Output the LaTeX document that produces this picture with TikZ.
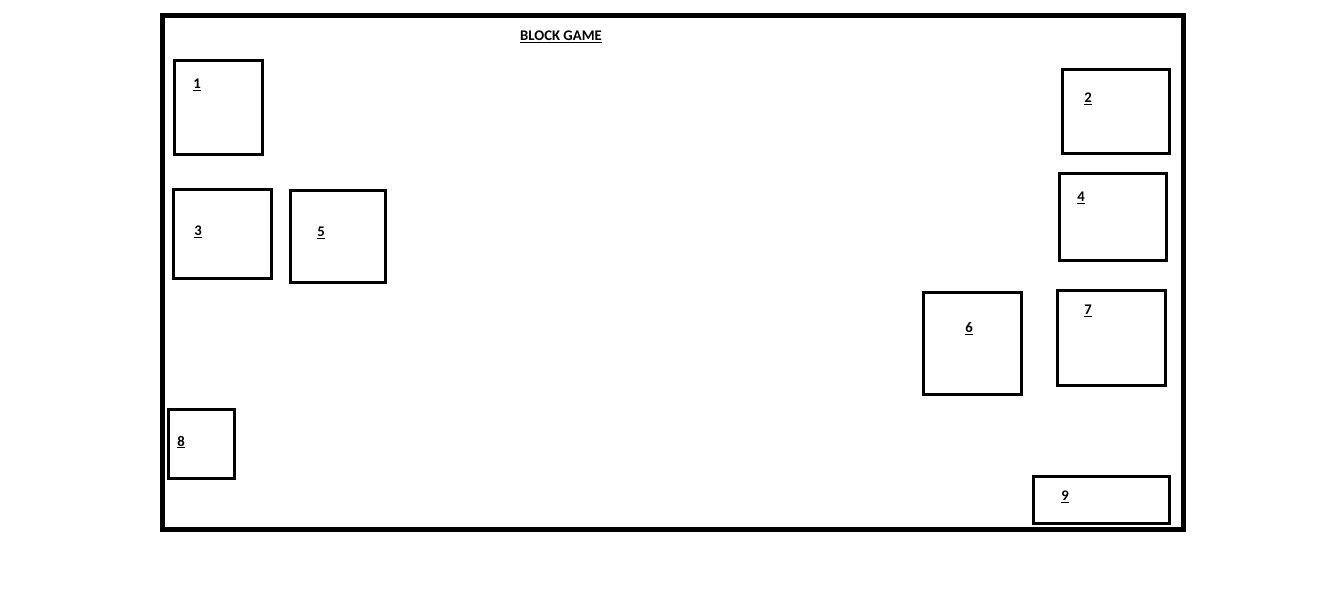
\documentclass[tikz,border=0pt]{standalone}
\usepackage{fontspec}
\setmainfont{Carlito}
\usetikzlibrary{positioning}

\begin{document}
\begin{tikzpicture}[
      x=1pt, y=-1pt,
      board/.style={draw, line width=5pt, inner sep=0pt},
      block/.style={draw, line width=3pt, inner sep=0pt},
      num/.style={font=\fontsize{14.7}{16}\selectfont\bfseries, inner sep=0pt},
    ]
    \useasboundingbox (0,0) rectangle (1341,605);

    \node[board, minimum width=1021pt, minimum height=514pt] (frame) at (673,272.5) {};
    \node[num] (title) at (561,37) {\underline{BLOCK GAME}};

    % left column
    \node[block, minimum width=88pt, minimum height=94pt] (b1) at (218.5,107.5) {};
    \node[num] (n1) at (197,85) {\underline{1}};

    \node[block, minimum width=98pt, minimum height=89pt] (b3) at (222.5,234) {};
    \node[num] (n3) at (198,232) {\underline{3}};

    \node[block, minimum width=95pt, minimum height=92pt] (b5) at (338,236.5) {};
    \node[num] (n5) at (321,233) {\underline{5}};

    \node[block, minimum width=66pt, minimum height=69pt] (b8) at (201.5,444) {};
    \node[num] (n8) at (181,442) {\underline{8}};

    % right column
    \node[block, minimum width=107pt, minimum height=84pt] (b2) at (1116,111.5) {};
    \node[num] (n2) at (1088,99) {\underline{2}};

    \node[block, minimum width=107pt, minimum height=87pt] (b4) at (1113,217) {};
    \node[num] (n4) at (1081,198) {\underline{4}};

    \node[block, minimum width=98pt, minimum height=102pt] (b6) at (972.5,343.5) {};
    \node[num] (n6) at (969,329) {\underline{6}};

    \node[block, minimum width=108pt, minimum height=95pt] (b7) at (1111.5,338) {};
    \node[num] (n7) at (1088,311) {\underline{7}};

    \node[block, minimum width=136pt, minimum height=47pt] (b9) at (1101.5,500) {};
    \node[num] (n9) at (1065,497) {\underline{9}};
  \end{tikzpicture}
\end{document}
